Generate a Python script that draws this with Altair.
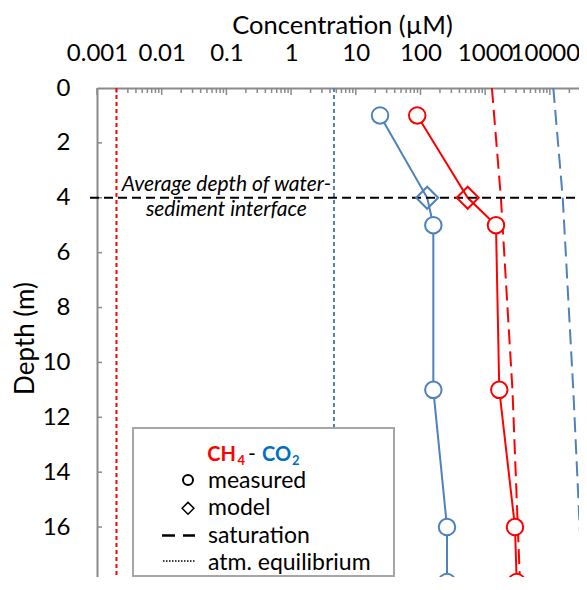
import altair as alt
import pandas as pd

# ---------------- data ----------------
gases = ["CH4", "CO2"]
meas_depth = [1, 5, 11, 16, 18]
ch4_meas = [89, 1469, 1652, 2890, 3069]
co2_meas = [23.7, 158, 158, 257, 257]
model_depth = [4]
ch4_model = [537]
co2_model = [127]
sat_depth = [0, 4, 11, 18]
ch4_sat = [1270, 1750, 2640, 3450]
co2_sat = [11300, 15800, 23000, 31700]
ch4_atm = [0.002]
co2_atm = [4.6]
interface_depth = [4]
x_tick_labels = [0.001, 0.01, 0.1, 1, 10, 100, 1000, 10000]
x_minor_ticks = [m * d for d in [0.001, 0.01, 0.1, 1, 10, 100, 1000, 10000] for m in range(2, 10) if m * d < 28000]
y_tick_labels = [0, 2, 4, 6, 8, 10, 12, 14, 16, 18]
annot_lines = ["Average depth of water-", "sediment interface"]
annot_depth = [3.77, 4.68]
annot_conc = [0.1, 0.1]
legend_labels = ["measured", "model", "saturation", "atm. equilibrium"]

RED = "#FF0000"
BLUE = "#4F81BD"
TITLE_BLUE = "#0070C0"
GRAY = "#8A8A8A"
FONT = "Lato"

# ---------------- tables ----------------
meas = pd.DataFrame({"depth": meas_depth * 2, "conc": ch4_meas + co2_meas,
                     "gas": ["CH4"] * len(meas_depth) + ["CO2"] * len(meas_depth)})
model = pd.DataFrame({"depth": model_depth * 2, "conc": ch4_model + co2_model,
                      "gas": ["CH4"] * len(model_depth) + ["CO2"] * len(model_depth)})
profile = pd.concat([meas, model], ignore_index=True)
sat = pd.DataFrame({"depth": sat_depth * 2, "conc": ch4_sat + co2_sat,
                    "gas": ["CH4"] * len(sat_depth) + ["CO2"] * len(sat_depth)})
atm = pd.DataFrame({"conc": ch4_atm + co2_atm, "gas": gases})
iface = pd.DataFrame({"depth": interface_depth})
annot = pd.DataFrame({"text": annot_lines, "depth": annot_depth, "conc": annot_conc})
xmaj = pd.DataFrame({"conc": x_tick_labels})
xmin = pd.DataFrame({"conc": x_minor_ticks})
yt = pd.DataFrame({"depth": y_tick_labels[1:]})
one = pd.DataFrame({"a": [0]})

# the page must not overflow the 587x590 window (8px body margin)
W, H = 482, 489
xscale = alt.Scale(type="log", domain=[0.001, 28200], nice=False)
yscale = alt.Scale(domain=[0, 17.82], reverse=True, nice=False, zero=False)
cscale = alt.Scale(domain=gases, range=[RED, BLUE])

x_axis = alt.Axis(
    orient="top", values=x_tick_labels, format="~g", ticks=False, tickSize=0,
    labelPadding=28, labelBaseline="alphabetic", labelFont=FONT, labelFontSize=24,
    labelOffset={"condition": {"test": "datum.value >= 10000", "value": -5}, "value": 0},
    labelColor="black", labelFlush=False, labelOverlap=False, domainColor=GRAY, domainWidth=2, grid=False,
    title="Concentration (µM)", titleFont=FONT, titleFontSize=25.5, titleFontWeight="normal",
    titleColor="black", titleX=245, titleY=-55, titleBaseline="alphabetic", titleAlign="center",
)
y_axis = alt.Axis(
    orient="left", values=y_tick_labels, ticks=False, tickSize=0, labelPadding=27,
    labelAlign="right", labelBaseline="middle", labelFont=FONT, labelFontSize=24,
    labelColor="black", labelFlush=False, labelOverlap=False, domainColor=GRAY, domainWidth=2, grid=False,
    title="Depth (m)", titleFont=FONT, titleFontSize=26, titleFontWeight="normal",
    titleColor="black", titleAngle=270, titleX=-64, titleY=250, titleBaseline="alphabetic",
    titleAlign="center",
)

X = lambda: alt.X("conc:Q", scale=xscale, axis=x_axis)
Y = lambda: alt.Y("depth:Q", scale=yscale, axis=y_axis)
C = alt.Color("gas:N", scale=cscale, legend=None)

# tick marks (drawn inward like the reference)
major = alt.Chart(xmaj).mark_rule(strokeWidth=1.5, color=GRAY).encode(x=X(), y=alt.value(0), y2=alt.value(7))
minor = alt.Chart(xmin).mark_rule(strokeWidth=1.5, color=GRAY).encode(x=X(), y=alt.value(0), y2=alt.value(5))
yticks = alt.Chart(yt).mark_rule(strokeWidth=1.5, color=GRAY).encode(y=Y(), x=alt.value(0), x2=alt.value(5))

atm_rules = alt.Chart(atm).mark_rule(strokeWidth=2, strokeDash=[4, 3]).encode(x=X(), color=C)
sat_lines = alt.Chart(sat).mark_line(strokeWidth=2, strokeDash=[15, 7], clip=True).encode(
    x=X(), y=Y(), color=C, order="depth:Q")
prof_lines = alt.Chart(profile).mark_line(strokeWidth=2).encode(x=X(), y=Y(), color=C, order="depth:Q")
iface_rule = alt.Chart(iface).mark_rule(strokeWidth=2, strokeDash=[9, 5], color="black").encode(
    y=Y(), x=alt.value(-7), x2=alt.value(W))
circles = alt.Chart(meas).mark_point(shape="circle", filled=False, fill="white", fillOpacity=1,
                                      size=272, strokeWidth=2, opacity=1).encode(x=X(), y=Y(), color=C)
diamonds = alt.Chart(model).mark_point(shape="diamond", filled=False, size=484,
                                        strokeWidth=2, opacity=1).encode(x=X(), y=Y(), color=C)
annot_text = alt.Chart(annot).mark_text(font=FONT, fontSize=21, fontStyle="italic", align="center",
                                         baseline="alphabetic", color="black").encode(x=X(), y=Y(), text="text:N")

# manual legend (decoration, pixels within the plot area)
box = alt.Chart(one).mark_rect(fill="white", stroke="#A6A6A6", strokeWidth=2).encode(
    x=alt.value(36), x2=alt.value(297), y=alt.value(340), y2=alt.value(488))
def txt(s, x, y, size=23, color="black", weight="normal", align="left"):
    return alt.Chart(one).mark_text(text=s, font=FONT, fontSize=size, color=color, fontWeight=weight,
                                    align=align, baseline="alphabetic").encode(x=alt.value(x), y=alt.value(y))
row = [400, 427.3, 454.6, 481.9]
leg = [
    txt("CH", 139, 373, 20, RED, "bold", "right"),
    txt("4", 140.5, 377, 13, RED, "bold"),
    txt("-", 155, 373, 21, "black", "normal", "center"),
    txt("CO", 165, 373, 20, TITLE_BLUE, "bold"),
    txt("2", 195, 377, 13, TITLE_BLUE, "bold"),
    alt.Chart(one).mark_point(shape="circle", size=100, strokeWidth=2, color="black", filled=False, opacity=1).encode(
        x=alt.value(91), y=alt.value(row[0] - 8)),
    alt.Chart(one).mark_point(shape="diamond", size=140, strokeWidth=1.5, color="black", filled=False, opacity=1).encode(
        x=alt.value(91), y=alt.value(row[1] - 7)),
    alt.Chart(one).mark_rule(strokeWidth=2.5, color="black", strokeDash=[13, 8]).encode(
        x=alt.value(65), x2=alt.value(98), y=alt.value(row[2] - 7)),
    alt.Chart(one).mark_rule(strokeWidth=1.5, color="black", strokeDash=[1.5, 1.5]).encode(
        x=alt.value(66), x2=alt.value(99), y=alt.value(row[3] - 9)),
]
for lab, r in zip(legend_labels, row):
    leg.append(txt(lab, 111, r))

chart = alt.layer(
    major, minor, yticks, atm_rules, sat_lines, prof_lines, iface_rule, diamonds, circles, annot_text,
    box, *leg,
).properties(
    width=W, height=H,
    padding={"left": 89, "top": 80, "right": 0, "bottom": 0},
    autosize=alt.AutoSizeParams(type="none"),
).configure_view(stroke=None)

chart.save("out.html", embed_options={"renderer": "svg", "actions": False})
